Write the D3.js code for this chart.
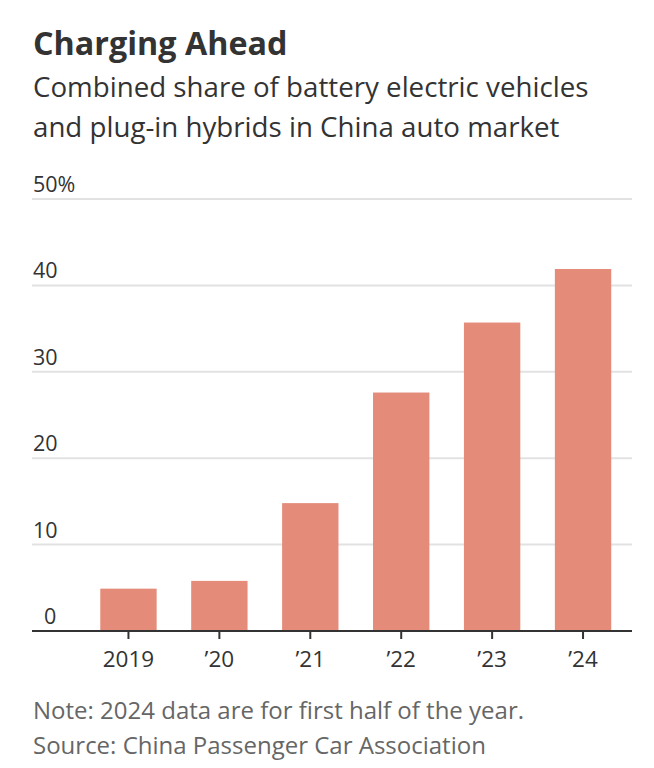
<!DOCTYPE html>
<html>
<head>
<meta charset="utf-8">
<script src="https://cdn.jsdelivr.net/npm/d3@7"></script>
<style>
  html, body { margin: 0; padding: 0; background: #fff; }
  svg { display: block; }
  text { font-family: "Open Sans", "Noto Sans", sans-serif; }
</style>
</head>
<body>
<svg id="chart" width="654" height="768"></svg>
<script>
const categories = ["2019", "’20", "’21", "’22", "’23", "’24"];
const shareValues = [4.9, 5.8, 14.8, 27.6, 35.7, 41.9];
const yTicks = [0, 10, 20, 30, 40, 50];
const yTickLabels = ["0", "10", "20", "30", "40", "50%"];
const titleText = "Charging Ahead";
const subtitleLines = ["Combined share of battery electric vehicles", "and plug-in hybrids in China auto market"];
const footerLines = ["Note: 2024 data are for first half of the year.", "Source: China Passenger Car Association"];

const svg = d3.select("#chart");
const left = 33, right = 632;

const y = d3.scaleLinear().domain([0, 50]).range([631, 199]);
const x = d3.scaleBand().domain(categories).range([83, 628.5]).paddingInner(0.38).paddingOuter(0.19);

// Title
svg.append("text").attr("x", left).attr("y", 55)
  .attr("font-size", 32.3).attr("font-weight", 700).attr("fill", "#333")
  .text(titleText);

svg.selectAll("text.sub").data(subtitleLines).enter().append("text")
  .attr("class", "sub")
  .attr("x", left).attr("y", (d, i) => 97 + i * 40)
  .attr("font-size", 27.7).attr("fill", "#333")
  .text(d => d);

// Gridlines
const grid = svg.append("g");
grid.selectAll("line").data(yTicks.filter(t => t > 0)).enter().append("line")
  .attr("x1", left - 1).attr("x2", right)
  .attr("y1", d => y(d)).attr("y2", d => y(d))
  .attr("stroke", "#e2e2e2").attr("stroke-width", 2);

// Y labels
svg.selectAll("text.ylab").data(yTicks).enter().append("text")
  .attr("class", "ylab")
  .attr("x", d => d === 0 ? 44 : left).attr("y", d => y(d) - 7)
  .attr("font-size", 21.5).attr("fill", "#333")
  .text((d, i) => yTickLabels[i]);

// Bars
svg.append("g").selectAll("rect").data(categories).enter().append("rect")
  .attr("x", d => x(d))
  .attr("width", x.bandwidth())
  .attr("y", (d, i) => y(shareValues[i]))
  .attr("height", (d, i) => y(0) - y(shareValues[i]))
  .attr("fill", "#e48b79");

// X axis
const xAxis = d3.axisBottom(x).tickSize(8).tickPadding(12).tickSizeOuter(0);
const gx = svg.append("g").attr("transform", `translate(0,${y(0)})`).call(xAxis);
gx.select(".domain").attr("d", `M${left - 1},0H${right}`).attr("stroke", "#333").attr("stroke-width", 2);
gx.selectAll(".tick line").attr("stroke", "#333").attr("stroke-width", 2);
gx.selectAll(".tick text")
  .attr("font-size", 22.5).attr("fill", "#333")
  .attr("font-family", "'Open Sans', 'Noto Sans', sans-serif");

// Footer
svg.selectAll("text.foot").data(footerLines).enter().append("text")
  .attr("class", "foot")
  .attr("x", left).attr("y", (d, i) => 719 + i * 35)
  .attr("font-size", 24).attr("fill", "#666")
  .text(d => d);
</script>
</body>
</html>
